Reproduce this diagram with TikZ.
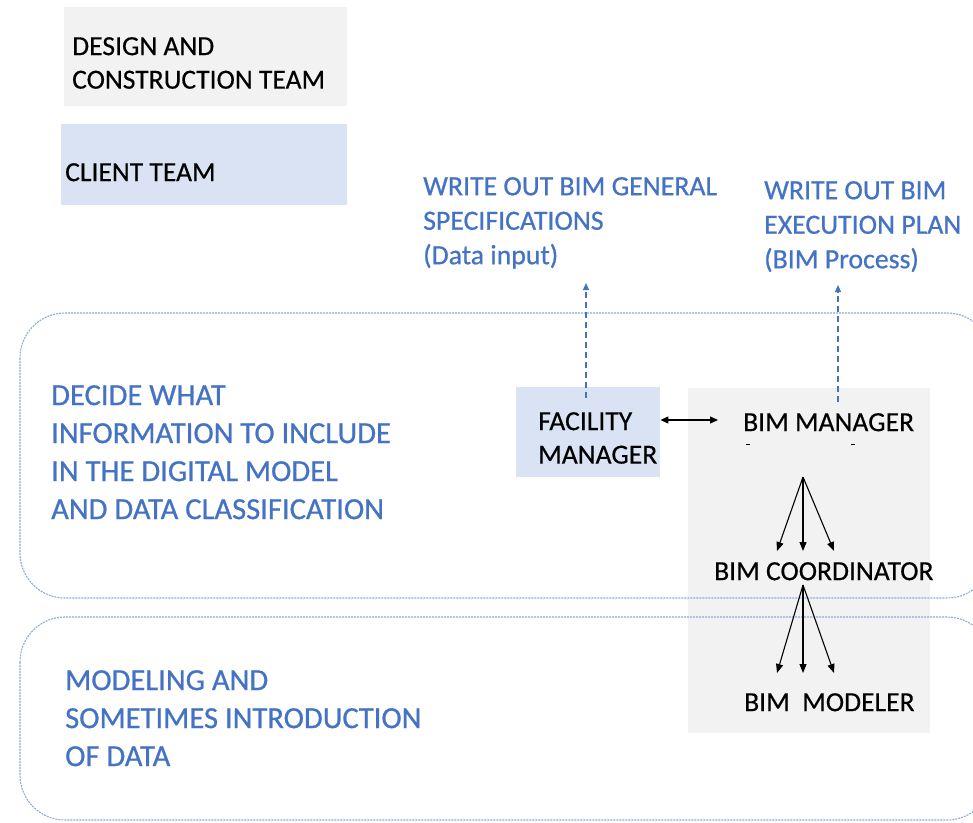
\documentclass[tikz,border=0pt]{standalone}
\usepackage{fontspec}
\setmainfont{Carlito}
\newfontfamily\labelfont[FakeBold=0.4]{Carlito}
\newfontfamily\bluefont[FakeBold=0.7]{Carlito}
\usetikzlibrary{arrows.meta}
\definecolor{panelgrey}{HTML}{F2F2F2}
\definecolor{clientblue}{HTML}{DAE3F3}
\definecolor{textblue}{HTML}{4472C4}
\definecolor{zoneblue}{HTML}{8EA9DB}
\tikzset{
  fillbox/.style={draw=none, inner sep=0pt, anchor=north west},
  label27/.style={inner sep=0pt, anchor=north west, align=left,
    font=\labelfont\fontsize{27.6}{33.5}\selectfont, text=black},
  bluelabel/.style={inner sep=0pt, anchor=north west, align=left,
    font=\bluefont\fontsize{27.8}{34.5}\selectfont, text=textblue},
  zonelabel/.style={inner sep=0pt, anchor=north west, align=left,
    font=\bluefont\fontsize{30.6}{38}\selectfont, text=textblue},
  zone/.style={draw=zoneblue, line width=1.1pt, dash pattern=on 2pt off 1pt,
    rounded corners=45pt},
  flow/.style={draw=black, line width=1.1pt,
    -{Triangle[length=9pt, width=7pt]}},
  flowboth/.style={draw=black, line width=1.1pt,
    {Triangle[length=8pt, width=7pt]}-{Triangle[length=8pt, width=7pt]}},
  outflow/.style={draw=textblue, line width=1.3pt, dash pattern=on 6pt off 4pt,
    -{Triangle[length=7pt, width=6pt]}},
}
\begin{document}
\begin{tikzpicture}[x=1pt, y=-1pt]
\useasboundingbox (0,0) rectangle (973,822);
\clip (0,0) rectangle (973,822);

% legend
\node[fillbox, fill=panelgrey, minimum width=283pt, minimum height=99pt] (dctbox) at (64,7) {};
\node[label27] (dcttext) at (72,37) {DESIGN AND\\CONSTRUCTION TEAM};
\node[fillbox, fill=clientblue, minimum width=286pt, minimum height=81pt] (clbox) at (61,124) {};
\node[label27] (cltext) at (65,163) {CLIENT TEAM};

% BIM team panel
\node[fillbox, fill=panelgrey, minimum width=242pt, minimum height=345pt] (bimpanel) at (688,388) {};

% zones
\draw[zone] (20,313) rectangle (992,598);
\draw[zone] (20,617) rectangle (992,820);

\node[zonelabel] (zone1) at (51,385)
  {DECIDE WHAT\\INFORMATION TO INCLUDE\\IN THE DIGITAL MODEL\\AND DATA CLASSIFICATION};
\node[zonelabel] (zone2) at (65,670)
  {MODELING AND\\SOMETIMES INTRODUCTION\\OF DATA};

% deliverables
\node[bluelabel] (spec) at (423,177)
  {WRITE OUT BIM GENERAL\\SPECIFICATIONS\\(Data input)};
\node[bluelabel] (bep) at (764,181)
  {WRITE OUT BIM\\EXECUTION PLAN\\(BIM Process)};

% roles
\node[fillbox, fill=clientblue, minimum width=144pt, minimum height=90pt] (fmbox) at (516,387) {};
\node[label27] (fm) at (538,412) {FACILITY\\MANAGER};
\node[label27] (mgr) at (743,413) {BIM MANAGER};
\node[label27] (coord) at (714,562) {BIM COORDINATOR};
\node[label27] (modeler) at (744,693) {BIM\ \ MODELER};

% small marks under the manager label
\draw[black, line width=0.8pt] (746,444) -- (750,444);
\draw[black, line width=0.8pt] (851,444) -- (855,444);

% connector points
\coordinate (fmup) at (586,398);
\coordinate (spectip) at (586,283);
\coordinate (mgrup) at (838,402);
\coordinate (beptip) at (838,285);
\coordinate (mgrleft) at (718,420);
\coordinate (mgrfan) at (803,477);
\coordinate (ca) at (777,551);
\coordinate (cb) at (803,551);
\coordinate (cc) at (834,551);
\coordinate (coordfan) at (803,585);
\coordinate (ma) at (777,673);
\coordinate (mb) at (803,673);
\coordinate (mc) at (834,673);

\draw[outflow] (fmup) -- (spectip);
\draw[outflow] (mgrup) -- (beptip);
\draw[flowboth] (fmbox.east |- mgrleft) -- (mgrleft);
\draw[flow] (mgrfan) -- (ca);
\draw[flow] (mgrfan) -- (cb);
\draw[flow] (mgrfan) -- (cc);
\draw[flow] (coordfan) -- (ma);
\draw[flow] (coordfan) -- (mb);
\draw[flow] (coordfan) -- (mc);
\end{tikzpicture}
\end{document}
